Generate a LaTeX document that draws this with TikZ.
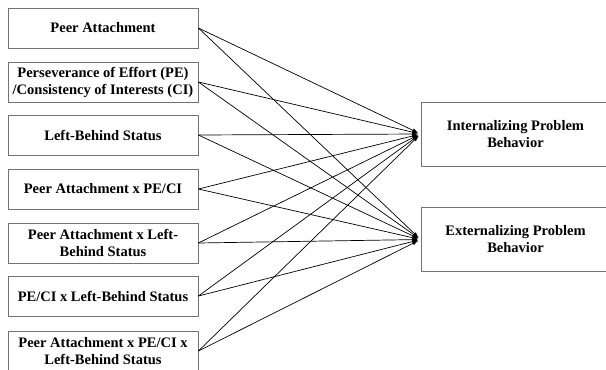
\documentclass[tikz,border=0pt]{standalone}
\usepackage{fontspec}
\setmainfont{Liberation Serif}
\usetikzlibrary{arrows.meta}
\begin{document}
\begin{tikzpicture}[x=1pt,y=-1pt,
  lbox/.style={draw=black!55,line width=0.8pt,minimum width=190pt,minimum height=40pt,inner sep=0pt,align=center,font=\fontsize{14.5}{17}\selectfont\bfseries},
  rbox/.style={draw=black!55,line width=0.8pt,minimum width=189pt,minimum height=64pt,inner sep=0pt,align=center,font=\fontsize{14.5}{17}\selectfont\bfseries},
  path/.style={draw=black,line width=0.7pt,-{Latex[length=6pt,width=4pt]},shorten >=2.5pt}]
\useasboundingbox (0,0) rectangle (606,370);
\clip (0,0) rectangle (606,370);
\node[lbox] (b1) at (103,28) {Peer Attachment};
\node[lbox] (b2) at (103,82) {Perseverance of Effort (PE)\\/Consistency of Interests (CI)};
\node[lbox] (b3) at (103,135) {Left-Behind Status};
\node[lbox] (b4) at (103,189) {Peer Attachment x PE/CI};
\node[lbox] (b5) at (103,243) {Peer Attachment x Left-\\Behind Status};
\node[lbox] (b6) at (103,296) {PE/CI x Left-Behind Status};
\node[lbox] (b7) at (103,351) {Peer Attachment x PE/CI x\\Left-Behind Status};
\node[rbox] (int) at (515.5,134) {Internalizing Problem\\Behavior};
\node[rbox] (ext) at (515.5,239.5) {Externalizing Problem\\Behavior};
\foreach \b in {b1,b2,b3,b4,b5,b6,b7}{
  \draw[path] (\b.east) -- (int.west);
  \draw[path] (\b.east) -- (ext.west);
}
\end{tikzpicture}
\end{document}
